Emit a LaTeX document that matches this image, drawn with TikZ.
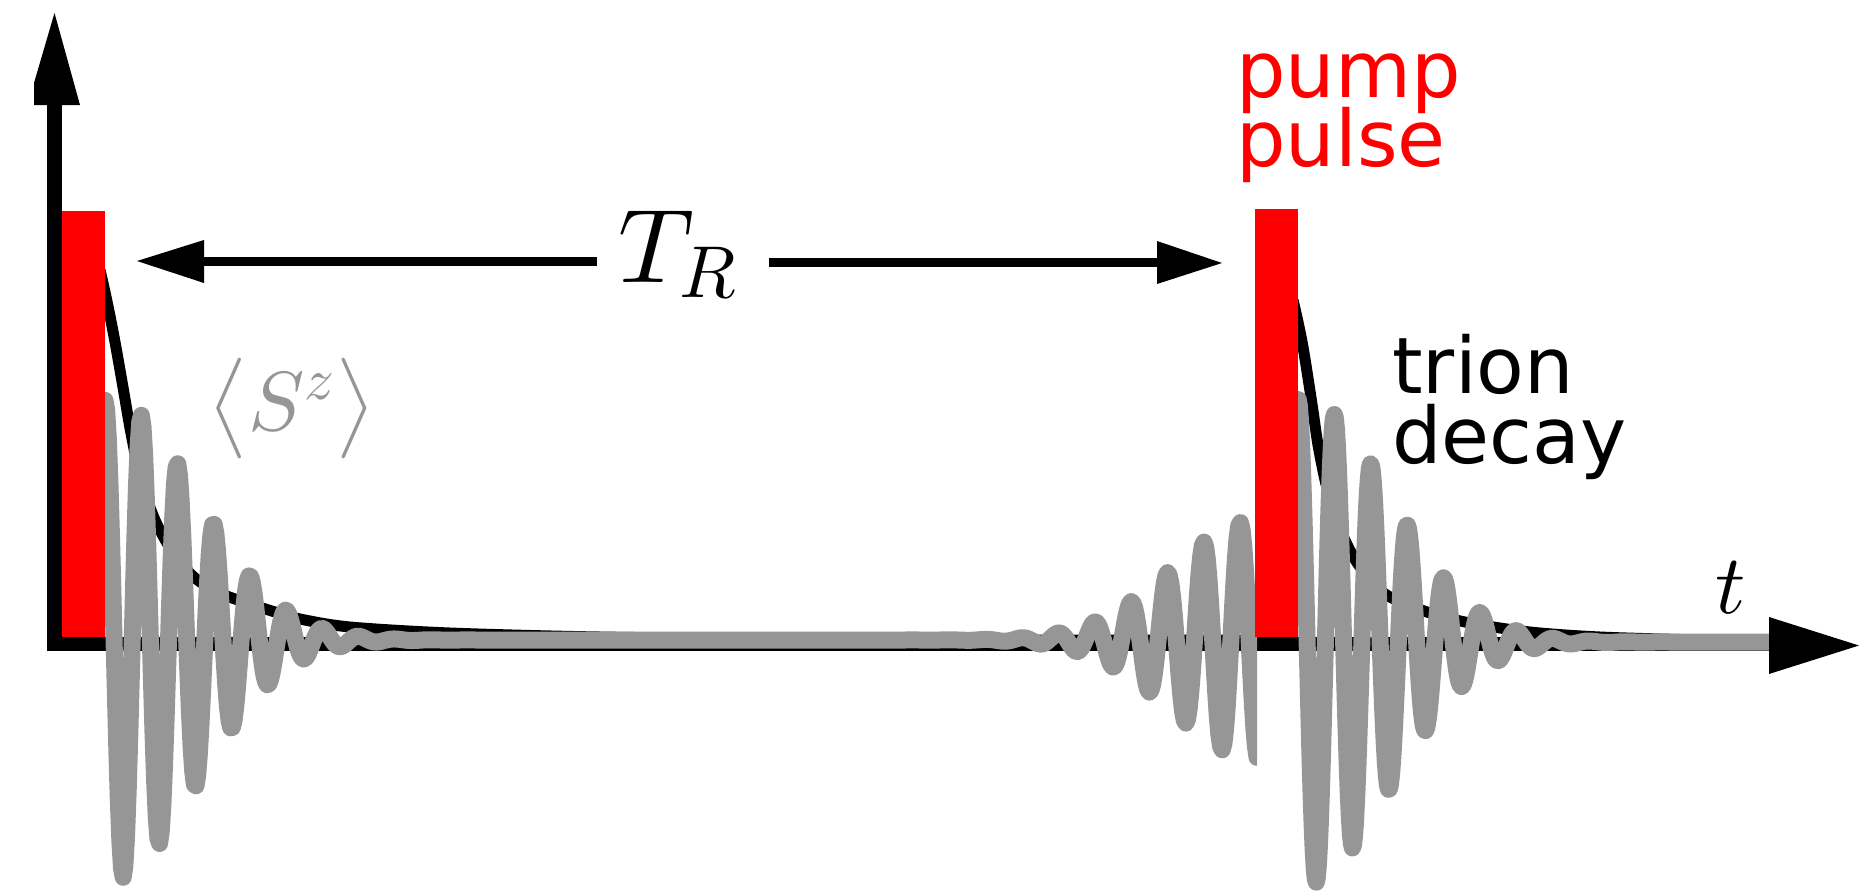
\documentclass[tikz,border=0pt]{standalone}
\usepackage{fontspec}
\newfontfamily\dejavu{DejaVu Sans}
\DeclareFontShape{OML}{cmm}{m}{it}{<-> cmmi10}{}
\DeclareFontShape{OMS}{cmsy}{m}{n}{<-> cmsy10}{}
\DeclareFontShape{OMX}{cmex}{m}{n}{<-> cmex10}{}
\definecolor{spin}{RGB}{150,150,150}
\definecolor{pulsered}{RGB}{255,0,0}
\tikzset{
  axisline/.style={line width=7.25pt, black},
  headfill/.style={fill=black},
  decayline/.style={line width=5.5pt, black, line join=round},
  spinline/.style={line width=8.5pt, spin, line join=round, line cap=round},
  periodline/.style={line width=4.5pt, black},
  pulsebar/.style={rectangle, fill=pulsered, draw=none, inner sep=0pt, minimum width=21.5pt},
  sanslab/.style={inner sep=0pt, font=\dejavu\fontsize{39}{40}\selectfont},
  mathlab/.style={inner sep=0pt}
}
\begin{document}
\begin{tikzpicture}[x=0.5pt,y=-0.5pt]
\useasboundingbox (0,0) rectangle (1870,895);

% axes
\coordinate (ybot) at (54.5,651);
\coordinate (ybase) at (54.5,105);
\coordinate (ytip) at (54.5,13);
\coordinate (xleft) at (47,644);
\coordinate (xbase) at (1770,644);
\coordinate (xtip) at (1859,645.5);
\draw[axisline] (ybot) -- (ybase);
\draw[axisline] (xleft) -- (xbase);

% trion decay curves (black)
\draw[decayline] plot[smooth, tension=0.5] coordinates {(100,270) (105,292) (110,316) (115,342) (120,370) (125,399) (130,428) (137,463) (145,493) (155,520) (167,543) (180,562) (195,578) (215,591) (235,599) (275,612) (300,619) (350,627) (450,633) (600,637) (800,639) (1000,640) (1250,640)};
\draw[decayline] plot[smooth, tension=0.5] coordinates {(1293,300) (1298,322) (1303,347) (1308,378) (1313,411) (1318,445) (1325,480) (1333,510) (1344,538) (1356,561) (1372,582) (1390,597) (1430,613) (1470,623) (1530,632) (1600,637) (1700,640) (1769,641)};

% spin precession (gray)
\begin{scope}
  \clip (105,0) rectangle (1257,895);
  \draw[spinline] plot[domain=100:1257, samples=700, variable=\x]
    (\x, {640 - 240*exp(-min(((\x-110)/122)^2,30))*cos(9.91736*(\x-105))
              - 120*exp(-min(((\x-1257)/118)^2,30))*cos(9.89011*(\x-1240))});
\end{scope}
\begin{scope}
  \clip (1298,0) rectangle (1870,895);
  \draw[spinline] plot[domain=1293:1769, samples=450, variable=\x]
    (\x, {642 - 243*exp(-min(((\x-1303)/122)^2,30))*cos(9.8630*(\x-1298))});
\end{scope}

% pump pulses
\node[pulsebar, minimum height=213pt] (pulseA) at (83.5,424) {};
\node[pulsebar, minimum height=214pt] (pulseB) at (1276.5,423) {};

% arrow heads of the axes
\fill[headfill] (ytip) -- (34,83) -- (34,105) -- (80,105) -- cycle;
\fill[headfill] (xtip) -- (1769,617) -- (1769,674) -- cycle;

% repetition period T_R
\node[mathlab, inner xsep=7pt, font=\fontsize{52.5}{60}\selectfont, anchor=base] (TR) at (678,282) {$T_R$};
\coordinate (Ltip) at (137,261);
\coordinate (Lbase) at (204,261.5);
\coordinate (Rbase) at (1157,262);
\coordinate (Rtip) at (1222,263);
\draw[periodline] (Lbase) -- ([xshift=-3.5pt]Lbase -| TR.west);
\draw[periodline] ([xshift=8.5pt]Rbase -| TR.east) -- (Rbase);
\fill[headfill] (Ltip) -- (204,240) -- (204,283) -- cycle;
\fill[headfill] (Rtip) -- (1157,241) -- (1157,284) -- cycle;

% labels
\node[mathlab, text=spin, font=\fontsize{42}{50}\selectfont, anchor=base] (Sz) at (292,430) {$\left\langle\vcenter to 50pt{}S^z\right\rangle$};
\node[mathlab, font=\fontsize{42}{50}\selectfont, anchor=base] (tlab) at (1731,613) {$t$};
\node[sanslab, text=pulsered, anchor=base west] (pump) at (1236,97) {pump};
\node[sanslab, text=pulsered, anchor=base west] (pulse) at (1236,166) {pulse};
\node[sanslab, anchor=base west] (trion) at (1392,393) {trion};
\node[sanslab, anchor=base west] (decay) at (1392,463) {decay};
\end{tikzpicture}
\end{document}
